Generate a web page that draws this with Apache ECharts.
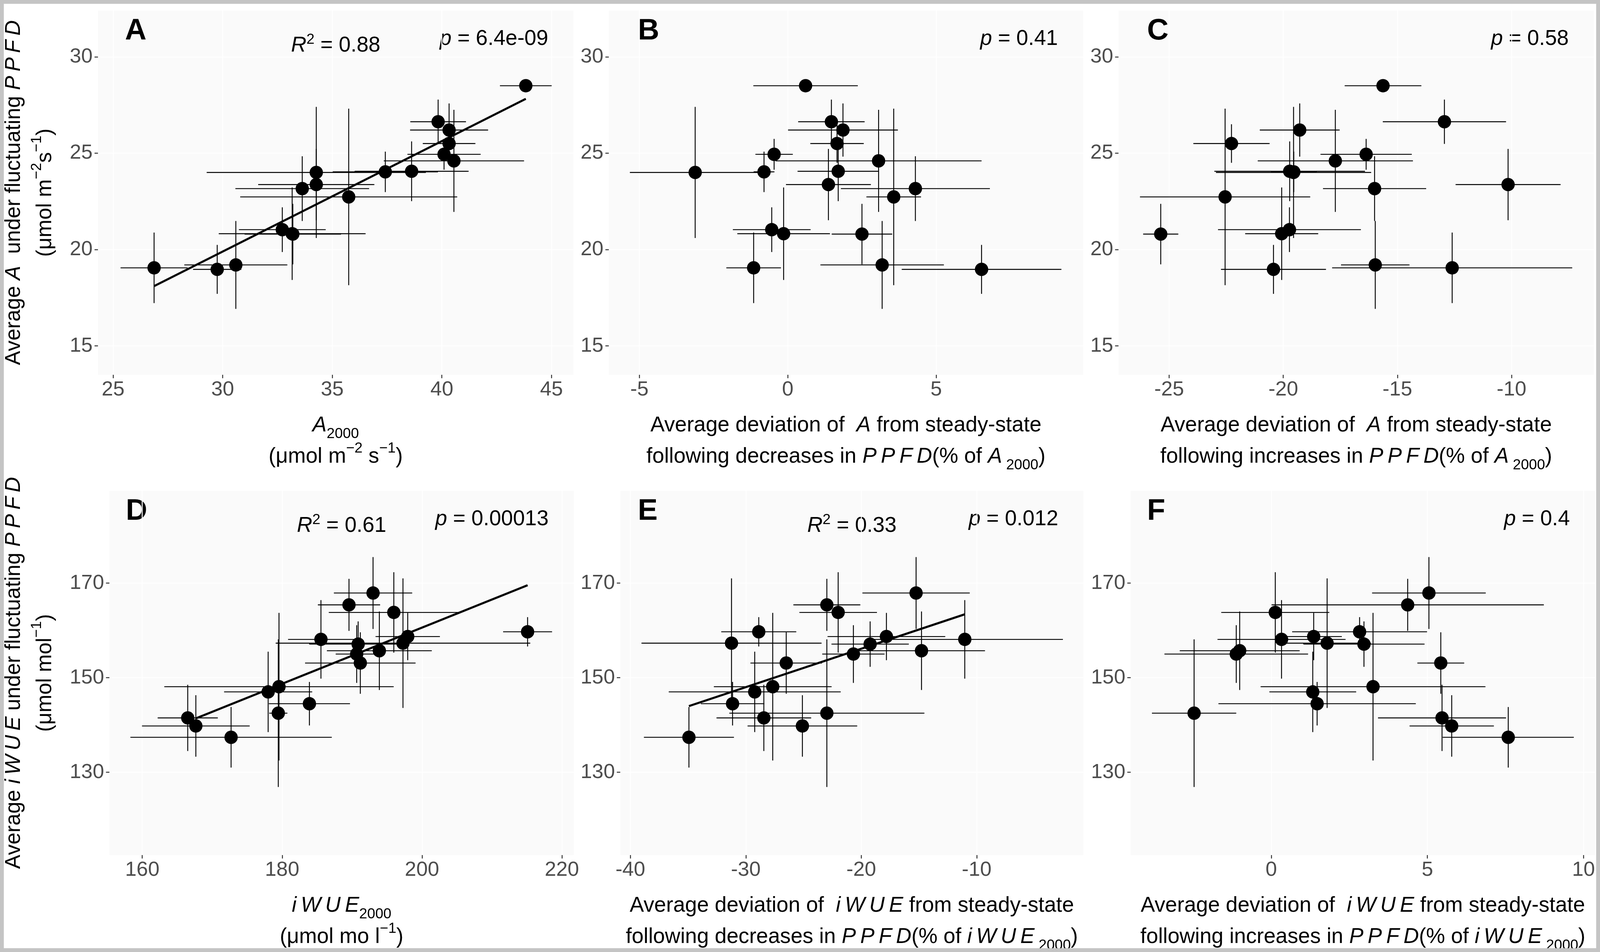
<!DOCTYPE html>
<html>
<head>
<meta charset="utf-8">
<title>A and iWUE under fluctuating PPFD</title>
<script src="https://cdn.jsdelivr.net/npm/echarts@6.0.0/dist/echarts.min.js"></script>
<style>
  html, body { margin: 0; padding: 0; background: #fff; overflow: hidden; }
  #chart { position: absolute; left: 0; top: 0; width: 100vw; height: 100vh; }
</style>
</head>
<body>
<div id="chart"></div>
<script>
/**———————————————— data read off the figure ————————————————**/
// top row y: average A under fluctuating PPFD (same 18 lines in A, B, C)
var avgA      = [28.5, 26.63, 26.2, 25.5, 24.94, 24.6, 24.06, 24.03, 24.0, 23.37, 23.16, 22.73, 21.03, 20.82, 20.8, 19.2, 19.05, 18.97];
var avgAErr   = [0.25, 1.15, 1.38, 1.0, 0.8, 2.65, 1.55, 1.05, 3.4, 1.85, 1.68, 4.58, 1.16, 2.4, 1.57, 2.28, 1.83, 1.27];
// panel A: A2000
var a2000     = [43.83, 39.83, 40.33, 40.33, 40.1, 40.55, 38.62, 37.42, 34.27, 34.27, 33.63, 35.75, 32.72, 33.17, 33.2, 30.6, 26.87, 29.75];
var a2000Err  = [1.18, 1.27, 1.78, 1.2, 1.67, 3.2, 2.6, 2.4, 5.0, 2.65, 3.05, 4.95, 1.98, 3.35, 2.2, 2.35, 1.53, 1.1];
// panel B: deviation of A after decreases in PPFD
var devADec   = [0.6, 1.47, 1.86, 1.66, -0.46, 3.06, 1.7, -0.8, -3.12, 1.37, 4.3, 3.57, -0.54, -0.14, 2.5, 3.18, -1.15, 6.53];
var devADecErr= [1.76, 1.12, 1.85, 0.9, 0.63, 3.47, 1.37, 0.35, 2.2, 1.43, 2.51, 0.92, 1.31, 1.56, 1.02, 2.08, 0.92, 2.69];
// panel C: deviation of A after increases in PPFD
var devAInc   = [-15.63, -12.94, -19.28, -22.27, -16.37, -17.72, -19.72, -19.54, -19.55, -10.15, -16.0, -22.55, -19.73, -20.07, -25.37, -15.97, -12.6, -20.43];
var devAIncErr= [1.68, 2.7, 1.75, 1.67, 2.0, 3.4, 3.3, 1.0, 3.4, 2.3, 2.26, 3.73, 3.13, 1.6, 0.77, 1.5, 5.26, 2.3];

// bottom row y: average iWUE under fluctuating PPFD (same 18 lines in D, E, F)
var avgW      = [167.9, 165.4, 163.8, 159.7, 158.7, 158.1, 157.3, 157.1, 155.7, 155.0, 153.1, 148.1, 147.0, 144.5, 142.5, 141.5, 139.8, 137.4];
var avgWErr   = [7.6, 5.5, 8.5, 3.1, 5.0, 8.3, 13.7, 4.8, 8.3, 6.1, 6.5, 15.6, 8.5, 4.6, 15.6, 7.0, 6.5, 6.4];
// panel D: iWUE2000
var w2000     = [193.0, 189.56, 195.97, 215.1, 197.96, 185.55, 197.28, 190.87, 193.9, 190.66, 191.18, 179.55, 178.0, 183.9, 179.45, 166.5, 167.66, 172.7];
var w2000Err  = [5.6, 4.45, 9.3, 3.5, 4.6, 4.7, 18.2, 7.0, 7.5, 3.0, 7.9, 16.4, 6.3, 5.8, 1.3, 4.3, 7.7, 14.4];
// panel E: deviation of iWUE after decreases in PPFD
var devWDec   = [-15.25, -22.98, -22.0, -28.88, -17.82, -11.03, -31.24, -19.23, -14.78, -20.68, -26.5, -27.67, -29.23, -31.15, -22.98, -28.44, -25.1, -34.93];
var devWDecErr= [4.65, 2.9, 3.36, 3.25, 5.1, 8.5, 7.8, 3.35, 5.5, 2.7, 3.1, 5.1, 7.45, 2.75, 8.45, 4.1, 4.75, 3.9];
// panel F: deviation of iWUE after increases in PPFD
var devWInc   = [5.05, 4.37, 0.13, 2.83, 1.36, 0.33, 1.79, 2.97, -1.01, -1.12, 5.43, 3.26, 1.33, 1.47, -2.47, 5.47, 5.78, 7.59];
var devWIncErr= [1.82, 4.36, 1.73, 2.16, 0.9, 2.05, 1.4, 1.94, 1.92, 2.3, 0.75, 3.6, 1.39, 3.16, 1.35, 2.05, 1.35, 2.1];

// fitted lines (end points as drawn)
var fitA = [[26.87, 18.1], [43.83, 27.82]];
var fitD = [[167.66, 141.4], [215.1, 169.55]];
var fitE = [[-34.93, 144.0], [-11.03, 163.4]];

// tick labels
var ticksTopY = [15, 20, 25, 30];
var ticksBotY = [130, 150, 170];
var ticksA = [25, 30, 35, 40, 45];
var ticksB = [-5, 0, 5];
var ticksC = [-25, -20, -15, -10];
var ticksD = [160, 180, 200, 220];
var ticksE = [-40, -30, -20, -10];
var ticksF = [0, 5, 10];

/**———————————————— layout (designed for 4197 x 2436, scaled to the window) ————————————————**/
var dom = document.getElementById('chart');
var W = dom.clientWidth || window.innerWidth, H = dom.clientHeight || window.innerHeight;
var sx = W / 4197, sy = H / 2436, s = Math.min(sx, sy);
function X(v) { return v * sx; }
function Y(v) { return v * sy; }
function F(v) { return v * s; }

var FONT = "'Liberation Sans', Arial, sans-serif";
var TOP_ROW = { top: 27, height: 932, ymin: 13.5, ymax: 32.4, yticks: ticksTopY };
var BOT_ROW = { top: 1256, height: 932, ymin: 112.5, ymax: 189.5, yticks: ticksBotY };

var panels = [
  { tag: 'A', row: TOP_ROW, left: 257,  right: 1504, xmin: 24.31,  xmax: 46.0,  xticks: ticksA, x: a2000,   xe: a2000Err,   y: avgA, ye: avgAErr, fit: fitA, r2: '0.88', p: '6.4e-09', labelX: 328 },
  { tag: 'B', row: TOP_ROW, left: 1597, right: 2841, xmin: -6.03,  xmax: 9.95,  xticks: ticksB, x: devADec, xe: devADecErr, y: avgA, ye: avgAErr, fit: null, r2: null,   p: '0.41',    labelX: 1673 },
  { tag: 'C', row: TOP_ROW, left: 2934, right: 4181, xmin: -27.22, xmax: -6.39, xticks: ticksC, x: devAInc, xe: devAIncErr, y: avgA, ye: avgAErr, fit: null, r2: null,   p: '0.58',    labelX: 3009 },
  { tag: 'D', row: BOT_ROW, left: 287,  right: 1505, xmin: 155.3,  xmax: 221.7, xticks: ticksD, x: w2000,   xe: w2000Err,   y: avgW, ye: avgWErr, fit: fitD, r2: '0.61', p: '0.00013', labelX: 330 },
  { tag: 'E', row: BOT_ROW, left: 1627, right: 2842, xmin: -40.88, xmax: -0.75, xticks: ticksE, x: devWDec, xe: devWDecErr, y: avgW, ye: avgWErr, fit: fitE, r2: '0.33', p: '0.012',   labelX: 1673 },
  { tag: 'F', row: BOT_ROW, left: 2966, right: 4184, xmin: -4.5,   xmax: 10.37, xticks: ticksF, x: devWInc, xe: devWIncErr, y: avgW, ye: avgWErr, fit: null, r2: null,   p: '0.4',     labelX: 3009 }
];

// italic symbols are set with thin spaces between letters, as in the figure
var PPFD = 'P\u2009P\u2009F\u2009D', IWUE = 'i\u2009W\u2009U\u2009E';
var xTitles = [
  '{i|A}{sub|2000}\n{n|(μmol m}{sup|−2}{n| s}{sup|−1}{n|)}',
  '{n|Average deviation of  }{i|A}{n| from steady-state}\n{n|following decreases in }{i|' + PPFD + '}{n|(% of }{i|A}{sub| 2000}{n|)}',
  '{n|Average deviation of  }{i|A}{n| from steady-state}\n{n|following increases in }{i|' + PPFD + '}{n|(% of }{i|A}{sub| 2000}{n|)}',
  '{i|' + IWUE + '}{sub|2000}\n{n|(μmol mo l}{sup|−1}{n|)}',
  '{n|Average deviation of  }{i|' + IWUE + '}{n| from steady-state}\n{n|following decreases in }{i|' + PPFD + '}{n|(% of }{i|' + IWUE + '}{sub| 2000}{n|)}',
  '{n|Average deviation of  }{i|' + IWUE + '}{n| from steady-state}\n{n|following increases in }{i|' + PPFD + '}{n|(% of }{i|' + IWUE + '}{sub| 2000}{n|)}'
];
var yTitles = [
  '{n|Average }{i|A}{n|  under fluctuating }{i|' + PPFD + '}\n{n|(μmol m}{sup|−2}{n|s}{sup|−1}{n|)}',
  '{n|Average }{i|' + IWUE + '}{n| under fluctuating }{i|' + PPFD + '}\n{n|(μmol mol}{sup|−1}{n|)}'
];

var titleRich = {
  n:   { fontSize: F(56), lineHeight: F(82), fontFamily: FONT, color: '#000' },
  i:   { fontSize: F(56), lineHeight: F(82), fontFamily: FONT, color: '#000', fontStyle: 'italic' },
  sub: { fontSize: F(38), lineHeight: F(50), fontFamily: FONT, color: '#000', verticalAlign: 'bottom' },
  sup: { fontSize: F(38), lineHeight: F(50), fontFamily: FONT, color: '#000', verticalAlign: 'top' }
};
var noteRich = {
  n:   { fontSize: F(56), lineHeight: F(70), fontFamily: FONT, color: '#000' },
  i:   { fontSize: F(56), lineHeight: F(70), fontFamily: FONT, color: '#000', fontStyle: 'italic' },
  sup: { fontSize: F(38), lineHeight: F(40), fontFamily: FONT, color: '#000', verticalAlign: 'top' }
};

function errorBars(params, api) {
  var x = api.value(0), y = api.value(1), ex = api.value(2), ey = api.value(3);
  var l = api.coord([x - ex, y]), r = api.coord([x + ex, y]);
  var t = api.coord([x, y + ey]), b = api.coord([x, y - ey]);
  var st = { stroke: '#000', lineWidth: F(2.4) };
  return {
    type: 'group',
    children: [
      { type: 'line', shape: { x1: l[0], y1: l[1], x2: r[0], y2: r[1] }, style: st },
      { type: 'line', shape: { x1: t[0], y1: t[1], x2: b[0], y2: b[1] }, style: st }
    ]
  };
}

function valueAxis(k, min, max, ticks, isY) {
  return {
    type: 'value',
    gridIndex: k,
    min: min,
    max: max,
    axisLine: { show: false, onZero: false },
    axisTick: { show: true, length: F(9), lineStyle: { color: '#333', width: F(2.5) }, customValues: ticks },
    axisLabel: { color: '#4d4d4d', fontSize: F(54), fontFamily: FONT, margin: F(isY ? 14 : 12), customValues: ticks },
    splitLine: { show: true, lineStyle: { color: '#ffffff', width: F(2.5) } }
  };
}

var grids = [], xAxes = [], yAxes = [], series = [], graphics = [];

panels.forEach(function (pn, k) {
  grids.push({
    left: X(pn.left), top: Y(pn.row.top), width: X(pn.right - pn.left), height: Y(pn.row.height),
    show: true, backgroundColor: '#fafafa', borderWidth: 0,
    containLabel: false, outerBoundsMode: 'none'
  });
  xAxes.push(valueAxis(k, pn.xmin, pn.xmax, pn.xticks, false));
  yAxes.push(valueAxis(k, pn.row.ymin, pn.row.ymax, pn.row.yticks, true));

  var bars = [], pts = [];
  for (var j = 0; j < pn.x.length; j++) {
    bars.push([pn.x[j], pn.y[j], pn.xe[j], pn.ye[j]]);
    pts.push([pn.x[j], pn.y[j]]);
  }
  series.push({
    type: 'custom', xAxisIndex: k, yAxisIndex: k,
    renderItem: errorBars, encode: { x: 0, y: 1 }, data: bars, z: 2, silent: true
  });
  if (pn.fit) {
    series.push({
      type: 'line', xAxisIndex: k, yAxisIndex: k, data: pn.fit,
      symbol: 'none', lineStyle: { color: '#000', width: F(5.5) }, z: 3, silent: true
    });
  }
  series.push({
    type: 'scatter', xAxisIndex: k, yAxisIndex: k, data: pts,
    symbol: 'circle', symbolSize: F(35), itemStyle: { color: '#000', opacity: 1 }, z: 4, silent: true
  });

  var top = pn.row.top;
  var cx = (pn.left + pn.right) / 2;
  // panel letter
  graphics.push({
    type: 'text', x: X(pn.labelX), y: Y(top + 53),
    style: { text: pn.tag, fontSize: F(78), fontWeight: 'bold', fontFamily: FONT, fill: '#000', align: 'left', verticalAlign: 'middle' }
  });
  // statistics
  if (pn.r2) {
    graphics.push({
      type: 'text', x: X(cx), y: Y(top + 90),
      style: { text: '{i|R}{sup|2}{n| = ' + pn.r2 + '}', rich: noteRich, align: 'center', verticalAlign: 'middle' }
    });
  }
  graphics.push({
    type: 'text', x: X(pn.right - 66), y: Y(top + 73),
    style: { text: '{i|p}{n| = ' + pn.p + '}', rich: noteRich, align: 'right', verticalAlign: 'middle' }
  });
  // x axis title
  graphics.push({
    type: 'text', x: X(cx), y: Y(top + pn.row.height + 170),
    style: { text: xTitles[k], rich: titleRich, align: 'center', verticalAlign: 'middle' }
  });
});

// y axis titles, one per row
[TOP_ROW, BOT_ROW].forEach(function (row, r) {
  graphics.push({
    type: 'text', x: X(78), y: Y(row.top + row.height / 2), rotation: Math.PI / 2,
    style: { text: yTitles[r], rich: titleRich, align: 'center', verticalAlign: 'middle' }
  });
});

// grey frame round the figure
graphics.push({
  type: 'rect', z: 100, silent: true,
  shape: { x: 0, y: 0, width: W, height: H },
  style: { fill: 'none', stroke: '#c4c4c4', lineWidth: F(20) }
});

var myChart = echarts.init(dom);
var option = {
  backgroundColor: '#ffffff',
  animation: false,
  grid: grids,
  xAxis: xAxes,
  yAxis: yAxes,
  series: series,
  graphic: graphics
};
myChart.setOption(option);
window.onresize = function () {
  myChart.resize();
};
</script>
</body>
</html>
